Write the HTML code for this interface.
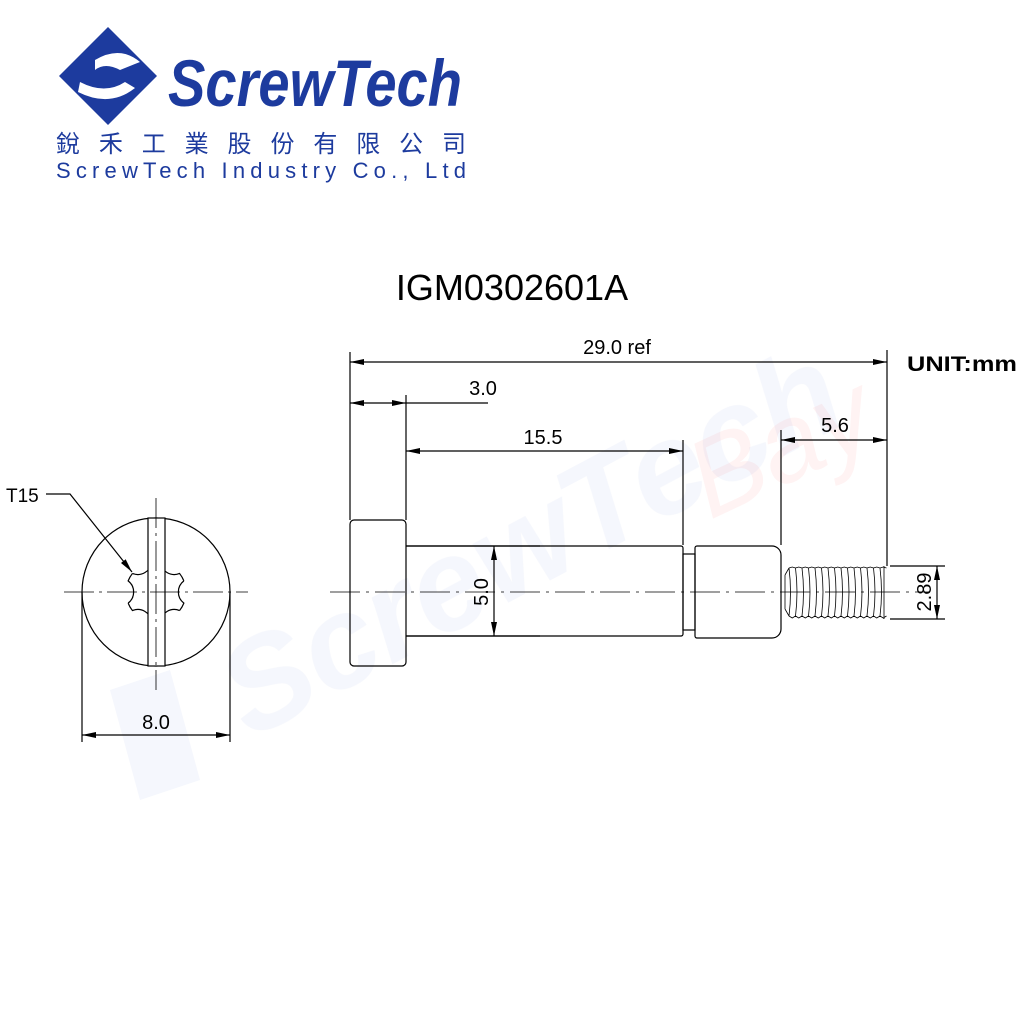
<!DOCTYPE html>
<html><head><meta charset="utf-8"><style>
html,body{margin:0;padding:0;background:#fff;width:1024px;height:1024px;overflow:hidden}
svg{display:block}
text{font-family:"Liberation Sans",Arial,sans-serif}
</style></head><body>
<svg width="1024" height="1024" viewBox="0 0 1024 1024" xmlns="http://www.w3.org/2000/svg">
<defs>
<marker id="a" viewBox="0 0 14 6" refX="14" refY="3" markerWidth="14" markerHeight="6" orient="auto-start-reverse" markerUnits="userSpaceOnUse"><path d="M0,0 L14,3 L0,6z" fill="#000"/></marker>
</defs>
<!-- watermark -->
<g opacity="0.045" fill="#2a4cc0">
<text x="250" y="740" font-size="130" font-weight="bold" font-style="italic" transform="rotate(-28 250 740)" font-family="Liberation Serif,serif">ScrewTech</text>
<path d="M110,690 l60,-20 l30,110 l-60,20z"/>
</g>
<text x="710" y="520" font-size="110" fill="#f33" opacity="0.06" font-style="italic" transform="rotate(-25 710 520)" font-family="Liberation Serif,serif">Bay</text>
<!-- logo -->
<g fill="#1d3b9e">
<path d="M108,27 L157,76 L108,125 L59,76z"/>
<path d="M95,60 Q120,45 140,62 L120,70 Q105,62 95,70z" fill="#fff"/>
<path d="M80,82 Q105,95 125,82 L135,88 Q110,108 78,92z" fill="#fff"/>
<text x="168" y="106" font-size="66" font-weight="bold" font-style="italic" font-family="Liberation Serif,serif" textLength="294" lengthAdjust="spacingAndGlyphs">ScrewTech</text>
<text x="56" y="152" font-size="24" font-family="'Noto Serif CJK SC','Noto Sans CJK TC',serif" textLength="410" lengthAdjust="spacing">銳禾工業股份有限公司</text>
<text x="56" y="178" font-size="22" textLength="410" lengthAdjust="spacing">ScrewTech Industry Co., Ltd</text>
</g>
<text x="512" y="300" font-size="36" text-anchor="middle" font-family="'Noto Sans CJK JP','Liberation Sans',sans-serif">IGM0302601A</text>
<text x="907" y="371" font-size="21" font-weight="bold" textLength="110" lengthAdjust="spacingAndGlyphs">UNIT:mm</text>
<g stroke="#000" stroke-width="1.2" fill="none">
<!-- end view -->
<circle cx="156" cy="592" r="74"/>
<g id="torx"></g>
<rect x="148" y="518" width="17" height="148" fill="#fff"/>
<line x1="156" y1="498" x2="156" y2="690" stroke-dasharray="30,5,3,5" stroke-width="0.8"/>
<line x1="64" y1="592" x2="248" y2="592" stroke-dasharray="30,5,3,5" stroke-width="0.8"/>
<polyline points="46,494 70,494 132,572" marker-end="url(#a)"/>
<line x1="82" y1="592" x2="82" y2="742"/><line x1="230" y1="592" x2="230" y2="742"/>
<line x1="82" y1="735" x2="230" y2="735" marker-start="url(#a)" marker-end="url(#a)"/>
<!-- side view -->
<rect x="350" y="520" width="56" height="146" rx="4"/>
<path d="M406,546 H681 a2,2 0 0 1 2,2 V634 a2,2 0 0 1 -2,2 H406"/>
<rect x="683" y="554" width="12" height="76"/>
<path d="M697,546 H772 a9,9 0 0 1 9,9 V629 a9,9 0 0 1 -9,9 H697 a2,2 0 0 1 -2,-2 V548 a2,2 0 0 1 2,-2z"/>
<g id="thr" stroke-width="0.8"></g>
<line x1="330" y1="592" x2="930" y2="592" stroke-dasharray="30,6,3,6" stroke-width="0.8"/>
<!-- extension lines -->
<line x1="350" y1="352" x2="350" y2="520"/>
<line x1="406" y1="395" x2="406" y2="520"/>
<line x1="683" y1="440" x2="683" y2="545"/>
<line x1="781" y1="430" x2="781" y2="545"/>
<line x1="887" y1="350" x2="887" y2="566"/>
<line x1="890" y1="566" x2="945" y2="566"/><line x1="890" y1="619" x2="945" y2="619"/>
<line x1="406" y1="636" x2="540" y2="636"/><line x1="406" y1="546" x2="540" y2="546"/>
<!-- dims -->
<line x1="350" y1="362" x2="887" y2="362" marker-start="url(#a)" marker-end="url(#a)"/>
<line x1="350" y1="403" x2="406" y2="403" marker-start="url(#a)" marker-end="url(#a)"/>
<line x1="406" y1="403" x2="488" y2="403"/>
<line x1="406" y1="451" x2="683" y2="451" marker-start="url(#a)" marker-end="url(#a)"/>
<line x1="781" y1="440" x2="887" y2="440" marker-start="url(#a)" marker-end="url(#a)"/>
<line x1="494" y1="546" x2="494" y2="636" marker-start="url(#a)" marker-end="url(#a)"/>
<line x1="937" y1="566" x2="937" y2="619" marker-start="url(#a)" marker-end="url(#a)"/>
</g>
<g font-size="20" fill="#000">
<text x="617" y="354" text-anchor="middle">29.0 ref</text>
<text x="483" y="395" text-anchor="middle">3.0</text>
<text x="543" y="444" text-anchor="middle">15.5</text>
<text x="835" y="432" text-anchor="middle">5.6</text>
<text x="156" y="729" text-anchor="middle">8.0</text>
<text x="6" y="502" font-size="19">T15</text>
<text transform="translate(488 592) rotate(-90)" text-anchor="middle">5.0</text>
<text transform="translate(931 592) rotate(-90)" text-anchor="middle">2.89</text>
</g>
<script>
(function(){
var ns="http://www.w3.org/2000/svg",cx=156,cy=592,r=30,d="";
for(var i=0;i<6;i++){var a=i*60*Math.PI/180,a1=a-0.38,a2=a+0.38,a3=a+60*Math.PI/180-0.38;
var p1=[cx+r*Math.cos(a1),cy+r*Math.sin(a1)],p2=[cx+r*Math.cos(a2),cy+r*Math.sin(a2)],p3=[cx+r*Math.cos(a3),cy+r*Math.sin(a3)];
d+="M"+p1[0]+","+p1[1]+" A14,14 0 0 0 "+p2[0]+","+p2[1]+" A"+r+","+r+" 0 0 1 "+p3[0]+","+p3[1]+" ";}
var p=document.createElementNS(ns,"path");p.setAttribute("d",d);document.getElementById("torx").appendChild(p);
var t="";for(var x=789;x<884;x+=6.5){t+="M"+x+",568 Q"+(x+3)+",592 "+x+",616 ";
t+="M"+x+",568 L"+(x+3.25)+",567 L"+(x+6.5)+",568 M"+x+",616 L"+(x+3.25)+",618 L"+(x+6.5)+",616 ";}
t+="M785,575 L789,568 M785,609 L789,616 M785,575 V609 M884,566 V619";
var q=document.createElementNS(ns,"path");q.setAttribute("d",t);document.getElementById("thr").appendChild(q);
})();
</script>
</svg>
</body></html>
